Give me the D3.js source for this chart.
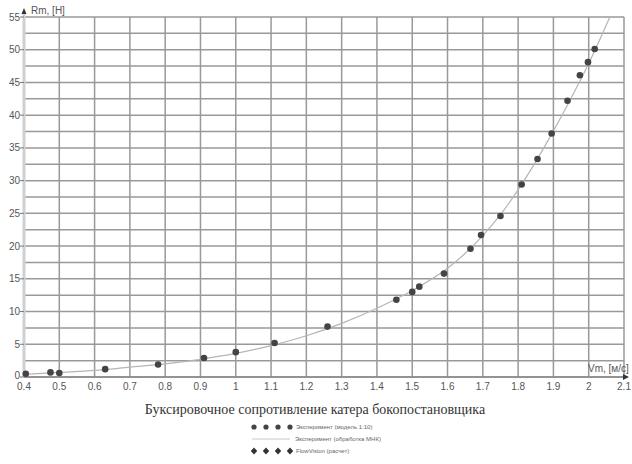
<!DOCTYPE html>
<html>
<head>
<meta charset="utf-8">
<script src="https://cdn.jsdelivr.net/npm/d3@7"></script>
<style>
  body { margin: 0; background: #fff; }
  svg { display: block; }
</style>
</head>
<body>
<div id="chart"></div>
<script>
// Experimental points (model 1:10)
const expV = [0.405, 0.475, 0.5, 0.63, 0.78, 0.91, 1.0, 1.11, 1.26, 1.455, 1.5, 1.52, 1.59, 1.665, 1.695, 1.75, 1.81, 1.855, 1.895, 1.94, 1.975, 1.998, 2.017];
const expR = [0.5, 0.7, 0.6, 1.2, 1.9, 2.9, 3.8, 5.2, 7.7, 11.8, 13.0, 13.8, 15.8, 19.6, 21.7, 24.6, 29.4, 33.3, 37.2, 42.2, 46.1, 48.1, 50.1];
// Least-squares curve
const fitV = [0.4, 0.5, 0.6, 0.7, 0.8, 0.9, 1.0, 1.1, 1.2, 1.3, 1.4, 1.5, 1.6, 1.7, 1.75, 1.8, 1.85, 1.9, 1.95, 2.0, 2.06];
const fitR = [0.4, 0.7, 1.0, 1.5, 2.0, 2.7, 3.6, 4.8, 6.3, 8.2, 10.5, 13.2, 16.6, 21.6, 24.8, 28.6, 32.9, 37.6, 42.6, 47.9, 55];
const xTicks = [0.4, 0.5, 0.6, 0.7, 0.8, 0.9, 1, 1.1, 1.2, 1.3, 1.4, 1.5, 1.6, 1.7, 1.8, 1.9, 2, 2.1];
const yTicks = [0, 5, 10, 15, 20, 25, 30, 35, 40, 45, 50, 55];
const yGrid = d3.range(0, 55.1, 2.5);
const legendLabels = ["Эксперимент (модель 1:10)", "Эксперимент (обработка МНК)", "FlowVision (расчет)"];

const width = 632, height = 464;
const svg = d3.select("#chart").append("svg")
    .attr("width", width)
    .attr("height", height);

const x = d3.scaleLinear().domain([0.4, 2.1]).range([24, 624]);
const y = d3.scaleLinear().domain([0, 55]).range([377, 17]);

// Grid
svg.append("g").selectAll("line.h")
    .data(yGrid)
    .join("line")
    .attr("x1", x(0.4)).attr("x2", x(2.1))
    .attr("y1", d => y(d)).attr("y2", d => y(d))
    .attr("stroke", "#999")
    .attr("stroke-width", 1.5);

svg.append("g").selectAll("line.v")
    .data(xTicks.slice(1))
    .join("line")
    .attr("x1", d => x(d)).attr("x2", d => x(d))
    .attr("y1", y(0)).attr("y2", y(55))
    .attr("stroke", "#999")
    .attr("stroke-width", 1.5);

// Left axis line (light, wide)
svg.append("line")
    .attr("x1", x(0.4)).attr("x2", x(0.4))
    .attr("y1", y(0)).attr("y2", y(55) - 4)
    .attr("stroke", "#d0d0d0")
    .attr("stroke-width", 3);

// Bottom axis line
svg.append("line")
    .attr("x1", x(0.4)).attr("x2", x(2.1) + 2)
    .attr("y1", y(0)).attr("y2", y(0))
    .attr("stroke", "#888")
    .attr("stroke-width", 1.5);

// Y tick labels + tick marks
const yAxis = svg.append("g");
yAxis.selectAll("line")
    .data(yTicks)
    .join("line")
    .attr("x1", x(0.4) - 4).attr("x2", x(0.4))
    .attr("y1", d => y(d)).attr("y2", d => y(d))
    .attr("stroke", "#777");
yAxis.selectAll("text")
    .data(yTicks)
    .join("text")
    .attr("x", x(0.4) - 4)
    .attr("y", d => y(d) + (d === 0 ? 2 : 3.5))
    .attr("text-anchor", "end")
    .attr("font-family", "Liberation Sans, Arial, sans-serif")
    .attr("font-size", 10)
    .attr("fill", "#555")
    .text(d => d);

// X tick labels
svg.append("g").selectAll("text")
    .data(xTicks)
    .join("text")
    .attr("x", d => x(d))
    .attr("y", y(0) + 13)
    .attr("text-anchor", "middle")
    .attr("font-family", "Liberation Sans, Arial, sans-serif")
    .attr("font-size", 10)
    .attr("fill", "#555")
    .text(d => d);

// Axis titles
svg.append("text")
    .attr("x", 31).attr("y", 14)
    .attr("font-family", "Liberation Sans, Arial, sans-serif")
    .attr("font-size", 10)
    .attr("fill", "#555")
    .text("Rm, [H]");
svg.append("path")
    .attr("d", `M${x(0.4) - 2.5},14 L${x(0.4)},8 L${x(0.4) + 2.5},14 Z`)
    .attr("fill", "#333");

svg.append("text")
    .attr("x", 588).attr("y", 372)
    .attr("font-family", "Liberation Sans, Arial, sans-serif")
    .attr("font-size", 10)
    .attr("fill", "#555")
    .text("Vm, [м/с]");
svg.append("path")
    .attr("d", `M${x(2.1) - 1},${y(0) - 3} L${x(2.1) + 5},${y(0)} L${x(2.1) - 1},${y(0) + 3} Z`)
    .attr("fill", "#333");

// Fitted curve
const fitData = fitV.map((v, i) => [v, fitR[i]]);
const line = d3.line()
    .x(d => x(d[0]))
    .y(d => y(d[1]))
    .curve(d3.curveMonotoneX);
svg.append("path")
    .datum(fitData)
    .attr("d", line)
    .attr("fill", "none")
    .attr("stroke", "#b5b5b5")
    .attr("stroke-width", 1.2);

// Experimental points
svg.append("g").selectAll("circle")
    .data(expV.map((v, i) => [v, expR[i]]))
    .join("circle")
    .attr("cx", d => x(d[0]))
    .attr("cy", d => y(d[1]))
    .attr("r", 3.3)
    .attr("fill", "#444");

// Title
svg.append("text")
    .attr("x", 315).attr("y", 414)
    .attr("text-anchor", "middle")
    .attr("font-family", "Liberation Serif, Times New Roman, serif")
    .attr("font-size", 14)
    .attr("fill", "#333")
    .text("Буксировочное сопротивление катера бокопостановщика");

// Legend
const legend = svg.append("g");
const legY = [427, 439, 451];
const legX = [254, 266, 278, 290];
legend.selectAll("circle")
    .data(legX)
    .join("circle")
    .attr("cx", d => d).attr("cy", legY[0])
    .attr("r", 2.6)
    .attr("fill", "#444");
legend.append("line")
    .attr("x1", 252).attr("x2", 290)
    .attr("y1", legY[1]).attr("y2", legY[1])
    .attr("stroke", "#c8c8c8")
    .attr("stroke-width", 1);
legend.selectAll("path")
    .data(legX)
    .join("path")
    .attr("d", d => `M${d},${legY[2] - 3.5} L${d + 3.2},${legY[2]} L${d},${legY[2] + 3.5} L${d - 3.2},${legY[2]} Z`)
    .attr("fill", "#333");
legend.selectAll("text")
    .data(legendLabels)
    .join("text")
    .attr("x", (d, i) => i === 1 ? 295 : 296)
    .attr("y", (d, i) => legY[i] + 2)
    .attr("font-family", "Liberation Sans, Arial, sans-serif")
    .attr("font-size", 6)
    .attr("fill", "#666")
    .text(d => d);
</script>
</body>
</html>
